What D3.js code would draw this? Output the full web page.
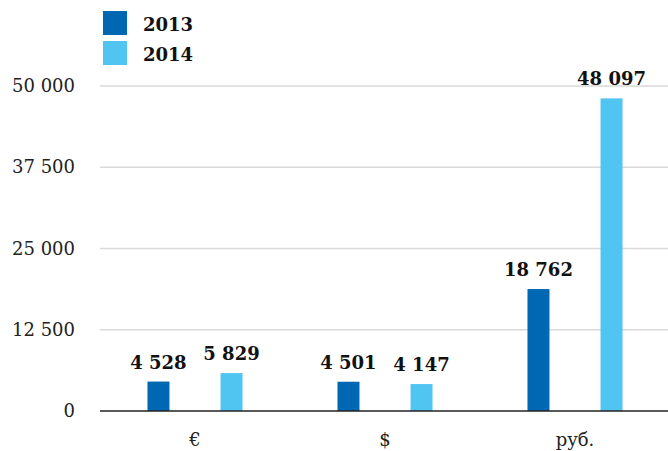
<!DOCTYPE html>
<html><head><meta charset="utf-8">
<script src="https://cdn.jsdelivr.net/npm/d3@7"></script>
<style>body{margin:0;background:#fff}svg{display:block}</style>
</head><body><svg id="c" width="668" height="451"></svg>
<script>
const categories = ["€", "$", "руб."];
const seriesNames = ["2013", "2014"];
const values2013 = [4528, 4501, 18762];
const values2014 = [5829, 4147, 48097];
const yTicks = [0, 12500, 25000, 37500, 50000];
const colors = ["#0068b3", "#51c5f1"];

const svg = d3.select("#c");
const font = "'DejaVu Serif', serif";
const fmt = v => d3.format(",")(v).replace(/,/g, " ");

const x0 = d3.scaleBand().domain(categories).range([100, 670]).padding(0);
const x1 = d3.scaleBand().domain(seriesNames).range([0, x0.bandwidth()]).paddingInner(0.699).paddingOuter(0.65);
const y = d3.scaleLinear().domain([0, 50000]).range([411, 86]);

// grid
svg.append("g").selectAll("line").data(yTicks.filter(d => d > 0)).join("line")
  .attr("x1", 100).attr("x2", 668).attr("y1", d => y(d)).attr("y2", d => y(d))
  .attr("stroke", "#d9d9d9").attr("stroke-width", 1.5);

// y labels
svg.append("g").selectAll("text").data(yTicks).join("text")
  .attr("x", 75).attr("y", d => y(d) + 6).attr("text-anchor", "end")
  .attr("font-family", font).attr("font-size", 18).attr("fill", "#222")
  .text(d => fmt(d));

const data = [];
categories.forEach((c, i) => {
  data.push({c, s: "2013", v: values2013[i], col: colors[0]});
  data.push({c, s: "2014", v: values2014[i], col: colors[1]});
});

svg.append("g").selectAll("rect").data(data).join("rect")
  .attr("x", d => x0(d.c) + x1(d.s)).attr("width", x1.bandwidth())
  .attr("y", d => y(d.v)).attr("height", d => y(0) - y(d.v))
  .attr("fill", d => d.col);

svg.append("g").selectAll("text").data(data).join("text")
  .attr("x", d => x0(d.c) + x1(d.s) + x1.bandwidth() / 2)
  .attr("y", d => y(d.v) - 13).attr("text-anchor", "middle")
  .attr("font-family", font).attr("font-size", 18).attr("font-weight", "bold").attr("fill", "#111")
  .text(d => fmt(d.v));

// zero line
svg.append("line").attr("x1", 100).attr("x2", 668).attr("y1", y(0)).attr("y2", y(0))
  .attr("stroke", "#222").attr("stroke-width", 1.5);

// category labels
svg.append("g").selectAll("text").data(categories).join("text")
  .attr("x", d => x0(d) + x0.bandwidth() / 2).attr("y", 446).attr("text-anchor", "middle")
  .attr("font-family", font).attr("font-size", 18).attr("fill", "#222")
  .text(d => d);

// legend
const lg = svg.append("g").selectAll("g").data(seriesNames).join("g")
  .attr("transform", (d, i) => `translate(103,${11 + i * 30})`);
lg.append("rect").attr("width", 24).attr("height", 24).attr("fill", (d, i) => colors[i]);
lg.append("text").attr("x", 40).attr("y", 20)
  .attr("font-family", font).attr("font-size", 18).attr("font-weight", "bold").attr("fill", "#111")
  .text(d => d);
</script></body></html>
